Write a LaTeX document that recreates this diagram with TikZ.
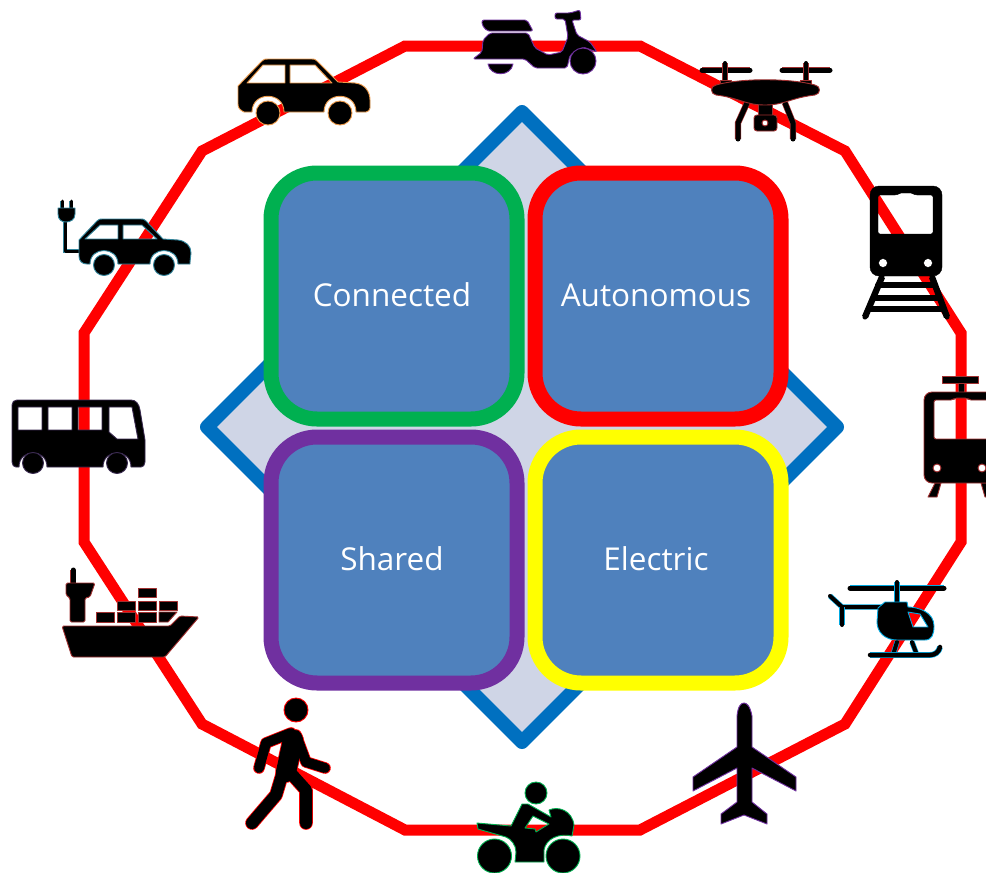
\documentclass[tikz,border=0pt]{standalone}
\usepackage{fontspec}
\setsansfont{Open Sans}
\definecolor{ringred}{HTML}{FF0000}
\definecolor{diaedge}{HTML}{0070C0}
\definecolor{diafill}{HTML}{CFD5E6}
\definecolor{boxfill}{HTML}{4F81BD}
\definecolor{boxgreen}{HTML}{00B050}
\definecolor{boxpurple}{HTML}{7030A0}
\definecolor{boxyellow}{HTML}{FFFF00}
\definecolor{icorange}{HTML}{ED9B4B}
\definecolor{icteal}{HTML}{31859C}
\definecolor{iccyan}{HTML}{00A8E0}
\definecolor{icdark}{HTML}{A03030}
\definecolor{icbus}{HTML}{3A2A50}
\tikzset{
  ring/.style={draw=ringred,line width=11,miter limit=10},
  dia/.style={draw=diaedge,fill=diafill,line width=14,line join=round},
  card/.style={draw=#1,fill=boxfill,line width=15,rounded corners=46,minimum width=246,minimum height=246,
    text=white,font=\sffamily\fontsize{31.5}{34}\selectfont,inner sep=0},
  icn/.style={fill=black,draw=#1,line width=0.9,line join=round,even odd rule},
  bar/.style n args={2}{line width=#2,draw=black,line cap=round,line join=round,preaction={draw=#1,line width=#2+1.3}},
}
\begin{document}
\begin{tikzpicture}[x=1pt,y=-1pt]
\clip (0,0) rectangle (986,873);
\fill[white] (0,0) rectangle (986,873);
% ring
\coordinate (r1) at (405,46); \coordinate (r2) at (640,46); \coordinate (r3) at (845,151);
\coordinate (r4) at (961,333); \coordinate (r5) at (961,542); \coordinate (r6) at (845,724);
\coordinate (r7) at (640,830); \coordinate (r8) at (405,830); \coordinate (r9) at (202,724);
\coordinate (r10) at (84,542); \coordinate (r11) at (84,333); \coordinate (r12) at (202,151);
\draw[ring] (r1)--(r2)--(r3)--(r4)--(r5)--(r6)--(r7)--(r8)--(r9)--(r10)--(r11)--(r12)--cycle;
% diamond
\coordinate (d1) at (522,112); \coordinate (d2) at (837,427); \coordinate (d3) at (522,742); \coordinate (d4) at (207,427);
\draw[dia] (d1)--(d2)--(d3)--(d4)--cycle;
% cards
\node[card=boxgreen] (conn) at (394,296) {\hspace*{-4pt}\raisebox{2pt}{Connected}};
\node[card=ringred] (auto) at (658,296) {\hspace*{-4pt}\raisebox{2pt}{Autonomous}};
\node[card=boxpurple] (shar) at (394,560) {\hspace*{-4pt}\raisebox{2pt}{Shared}};
\node[card=boxyellow] (elec) at (658,560) {\hspace*{-4pt}\raisebox{2pt}{Electric}};

% car (orange)
\draw[icn=icorange] (238,86)--(262,61) .. controls (264,59) and (265,59) .. (268,59)--(312,59) .. controls (314,59) and (315,59) .. (317,61)--(338,82)--(355,83) .. controls (365,84) and (370,92) .. (370,100)--(370,108) .. controls (370,110) and (368,112) .. (366,112)--(356,112) .. controls (356,91) and (324,91) .. (324,112)--(284,112) .. controls (284,91) and (252,91) .. (252,112)--(244,112) .. controls (240,110) and (238,108) .. (238,104)--cycle
 (247,83)--(263,65)--(285,65)--(285,83)--cycle (290,65)--(315,65)--(332,83)--(290,83)--cycle;
\draw[icn=icorange] (268,113) circle (12) (340,113) circle (12);

% scooter (purple)
\draw[icn=boxpurple,rounded corners=2] (482,20)--(527,20)--(533,31)--(487,31)--(482,25)--cycle;
\draw[icn=boxpurple,rounded corners=2] (473,59)--(482,52)--(483,40)--(490,33)--(528,33)--(535,48)--(548,55)--(562,52)--(568,37)--(565,19)--(555,19)--(555,13)--(570,13)--(580,10)--(581,20)--(572,20)--(577,35)--(590,42)--(597,52)--(583,47)--(570,55)--(567,68)--(535,68)--(525,59)--cycle;
\draw[icn=boxpurple] (488,64)--(513,64) .. controls (511,77) and (490,77) .. (488,64)--cycle;
\draw[icn=boxpurple] (583,61) circle (13);

% drone
\draw[bar={icdark}{5}] (702,70)--(750,70);
\draw[bar={icdark}{5}] (782,70)--(830,70);
\draw[bar={icdark}{4}] (725,63)--(725,84);
\draw[bar={icdark}{4}] (806,63)--(806,84);
\draw[bar={icdark}{5}] (747,103)--(738,123)--(738,139);
\draw[bar={icdark}{5}] (785,103)--(793,123)--(793,139);
\draw[icn=icdark] (720,80) rectangle (731,86) (800,80) rectangle (811,86);
\draw[icn=icdark] (758,103) rectangle (772,117);
\draw[icn=icdark] (716,85) .. controls (740,78) and (790,78) .. (815,85) .. controls (821,86) and (821,94) .. (815,95) .. controls (790,98) and (785,105) .. (765,105) .. controls (745,105) and (740,98) .. (716,95) .. controls (710,94) and (710,86) .. (716,85)--cycle;
\draw[icn=icdark,rounded corners=3] (754,115) rectangle (777,131) (765,123) circle (3);

% train
\draw[bar={black}{5}] (882,277)--(865,317);
\draw[bar={black}{5}] (932,277)--(947,317);
\draw[bar={black}{4}] (877,285)--(936,285);
\draw[bar={black}{4}] (873,298)--(940,298);
\draw[bar={black}{4}] (869,309)--(944,309);
\draw[fill=black,even odd rule] [rounded corners=9] (870,186) rectangle (942,276) [rounded corners=2] (878,195)--(897,195)--(899,193)--(913,193)--(915,195)--(933,195)--(933,234)--(878,234)--cycle (883,263) circle (4.5) (928,263) circle (4.5);

% tram
\draw[icn=icdark] (942,376) rectangle (978,383);
\draw[icn=icdark] (958,383) rectangle (964,394);
\draw[icn=icdark] (935,483)--(941,483)--(937,497)--(928,497)--cycle (987,483)--(981,483)--(985,497)--(994,497)--cycle;
\draw[icn=icdark,rounded corners=8] (924,392) rectangle (998,483) [rounded corners=2] (934,400)--(953,400)--(955,398)--(967,398)--(969,400)--(988,400)--(988,439)--(934,439)--cycle (937,468) circle (4) (982,468) circle (4);

% helicopter
\draw[bar={iccyan}{5}] (850,588)--(944,588);
\draw[bar={iccyan}{4}] (897,582)--(897,603);
\draw[bar={iccyan}{4}] (830,596)--(842,607)--(885,607);
\draw[bar={iccyan}{4}] (842,607)--(842,625);
\draw[bar={iccyan}{4}] (897,642)--(893,655);
\draw[bar={iccyan}{4}] (912,642)--(917,655);
\draw[bar={iccyan}{4.5}] (870,655)--(930,655) .. controls (935,655) and (939,652) .. (940,647);
\draw[icn=iccyan] (885,602)--(907,602)--(908,607) .. controls (918,607) and (934,612) .. (934,626) .. controls (934,634) and (932,640) .. (925,640)--(897,640) .. controls (885,640) and (877,632) .. (877,622)--(878,608)--cycle
 (908,612)--(920,614)--(928,627)--(913,627)--cycle;

% airplane
\draw[icn=boxpurple] (737,716) .. controls (738,706) and (741,703) .. (744,703) .. controls (747,703) and (750,706) .. (752,716)--(752,747)--(796,777)--(796,791)--(752,768)--(752,802)--(767,814)--(767,824)--(744,815)--(721,824)--(721,814)--(737,802)--(737,768)--(693,791)--(693,777)--(737,747)--cycle;

% motorbike
\draw[icn=boxgreen] (536,793) circle (11);
\draw[icn=boxgreen] (494.5,856) circle (17) (563,856) circle (17);
\draw[icn=boxgreen] (477,823)--(511,826)--(522,804)--(528,804)--(551,817)--(549,810) .. controls (558,806) and (572,810) .. (574,825)--(572,836) .. controls (560,833) and (546,838) .. (544,850)--(544,862)--(515,862)--(516,852) .. controls (516,845) and (511,839) .. (506,837)--(478,829)--cycle
 (533,816)--(549,824)--(536,832)--(535,829)--(525,828)--cycle;

% walker
\draw[icn=ringred] (296,710) circle (12);
\begin{scope}[line cap=round,line join=round]
\draw[ringred,line width=11.6] (291,733)--(266,743)--(259,768);
\draw[ringred,line width=11.6] (296,735)--(306,762)--(325,768);
\draw[ringred,line width=21.6] (293,740)--(286,772);
\draw[ringred,line width=13.6] (285,765)--(276,795)--(252,823);
\draw[ringred,line width=13.6] (288,770)--(306,790)--(306,823);
\draw[black,line width=10] (291,733)--(266,743)--(259,768);
\draw[black,line width=10] (296,735)--(306,762)--(325,768);
\draw[black,line width=20] (293,740)--(286,772);
\draw[black,line width=12] (285,765)--(276,795)--(252,823);
\draw[black,line width=12] (288,770)--(306,790)--(306,823);
\end{scope}

% EV car
\draw[bar={icteal}{3}] (80,251)--(65,251)--(65,220);
\draw[bar={icteal}{3}] (62,201)--(62,209);
\draw[bar={icteal}{3}] (71,201)--(71,209);
\draw[icn=icteal] (58,208)--(75,208)--(75,214) .. controls (75,220) and (70,222) .. (66,222) .. controls (62,222) and (58,220) .. (58,214)--cycle;
\draw[icn=icteal] (79,240)--(97,221) .. controls (99,219) and (100,219) .. (102,219)--(141,219) .. controls (143,219) and (144,219) .. (146,221)--(163,239)--(178,240) .. controls (186,241) and (191,246) .. (191,253)--(190,262)--(190,264)--(178,264) .. controls (178,246) and (150,246) .. (150,264)--(118,264) .. controls (118,246) and (90,246) .. (90,264)--(87,264) .. controls (82,264) and (79,261) .. (79,256)--cycle
 (85,239)--(100,225)--(118,225)--(118,239)--cycle (123,225)--(142,225)--(157,239)--(123,239)--cycle;
\draw[icn=icteal] (104,265) circle (10.5) (164,265) circle (10.5);

% bus
\draw[icn=icbus] (12,405) .. controls (12,402) and (14,400) .. (17,400)--(131,400) .. controls (136,400) and (139,404) .. (140,410)--(145,440)--(145,462) .. controls (145,465) and (143,467) .. (141,467)--(131,467) .. controls (131,448) and (103,448) .. (103,467)--(47,467) .. controls (47,448) and (19,448) .. (19,467)--(16,467) .. controls (14,467) and (12,465) .. (12,462)--cycle
 (18,407) rectangle (42,430) (48,407) rectangle (72,430) (78,407) rectangle (102,430)
 (109,407)--(132,407)--(138,439)--(117,439)--(109,432)--cycle;
\draw[icn=icbus] (33,463) circle (10.5) (117,463) circle (10.5);

% ship
\draw[bar={icdark}{5}] (73,570)--(73,585);
\draw[icn=icdark,rounded corners=1.5] (66,583)--(95,583)--(90,597)--(85,598)--(85,622)--(70,622)--(70,598)--(66,595)--cycle;
\draw[icn=icdark,rounded corners=1.5] (62,626)--(170,626)--(180,616)--(199,617)--(165,657)--(72,657)--cycle;
\draw[icn=icdark] (138,588) rectangle (156,597)
 (117,601) rectangle (135,610) (138,601) rectangle (156,610) (159,601) rectangle (177,610)
 (96,612) rectangle (114,622) (117,612) rectangle (135,622) (138,612) rectangle (156,622);
\draw[icn=icdark] (159,612)--(177,612)--(168,622)--(159,622)--cycle;
\end{tikzpicture}
\end{document}
